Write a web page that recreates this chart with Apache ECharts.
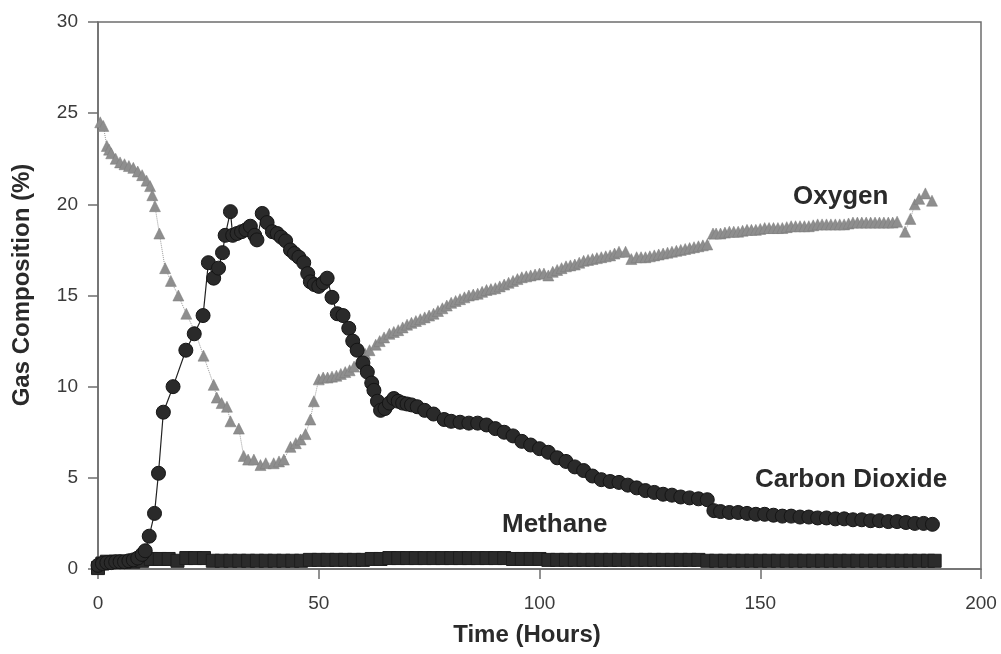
<!DOCTYPE html>
<html>
<head>
<meta charset="utf-8">
<script src="https://cdn.jsdelivr.net/npm/echarts@6/dist/echarts.min.js"></script>
<style>
  html, body { margin: 0; padding: 0; background: #fff; }
  #chartDiv { width: 1001px; height: 654px; }
</style>
</head>
<body>
<div id="chartDiv"></div>
<script>
    // 坐标轴刻度
    var xTicks = [0, 50, 100, 150, 200];
    var yTicks = [0, 5, 10, 15, 20, 25, 30];

    // Carbon Dioxide [time, %]
    var co2Data = [
        [0, 0.2], [1, 0.3], [2, 0.35], [3, 0.35], [4, 0.4], [5, 0.4], [6, 0.4], [7, 0.45], [8, 0.5], [9, 0.6],
        [10, 0.8], [10.7, 1.0], [11.6, 1.8], [12.8, 3.05], [13.7, 5.25], [14.8, 8.6], [17, 10.0], [19.9, 12.0],
        [21.8, 12.9], [23.8, 13.9], [25.0, 16.8], [26.2, 15.95], [27.3, 16.5], [28.2, 17.35], [28.8, 18.3],
        [30.0, 19.6], [30.5, 18.3], [31.5, 18.4], [32.5, 18.5], [33.5, 18.6], [34.5, 18.8], [35.5, 18.3],
        [36, 18.05], [37.2, 19.5], [38.3, 19.0], [39.5, 18.5], [40.6, 18.4], [41.5, 18.2], [42.5, 18.0],
        [43.6, 17.5], [44.5, 17.3], [45.5, 17.1], [46.6, 16.8], [47.5, 16.2], [48.1, 15.75], [49, 15.6],
        [50, 15.5], [51, 15.7], [51.9, 15.95], [53, 14.9], [54.2, 14.0], [55.5, 13.9], [56.8, 13.2],
        [57.7, 12.5], [58.7, 12.0], [60, 11.3], [61, 10.8], [62, 10.2], [62.5, 9.8], [63.3, 9.2], [64, 8.7],
        [65, 8.8], [66, 9.1], [67, 9.35], [68, 9.2], [69, 9.1], [70, 9.05], [71, 9.0], [72.3, 8.9], [74, 8.7],
        [76, 8.5], [78.4, 8.2], [80, 8.1], [82, 8.05], [84, 8.0], [86, 8.0], [88, 7.9], [90, 7.7], [92, 7.5],
        [94, 7.3], [96, 7.0], [98, 6.8], [100, 6.6], [102, 6.4], [104, 6.1], [106, 5.9], [108, 5.6], [110, 5.4],
        [112, 5.1], [114, 4.9], [116, 4.8], [118, 4.75], [120, 4.6], [122, 4.45], [124, 4.3], [126, 4.2],
        [128, 4.1], [130, 4.05], [132, 3.95], [134, 3.9], [136, 3.85], [138, 3.8], [139.5, 3.2], [141, 3.15],
        [143, 3.1], [145, 3.1], [147, 3.05], [149, 3.0], [151, 3.0], [153, 2.95], [155, 2.9], [157, 2.9],
        [159, 2.85], [161, 2.85], [163, 2.8], [165, 2.8], [167, 2.75], [169, 2.75], [171, 2.7], [173, 2.7],
        [175, 2.65], [177, 2.65], [179, 2.6], [181, 2.6], [183, 2.55], [185, 2.5], [187, 2.5], [189, 2.45]
    ];

    // Oxygen [time, %]
    var o2Data = [
        [0.5, 24.5], [1.2, 24.3], [2, 23.2], [2.5, 23.0], [3, 22.8], [4, 22.5], [5, 22.3], [6, 22.2], [7, 22.1],
        [8, 22.0], [9, 21.8], [10, 21.6], [11, 21.3], [11.8, 21.0], [12.3, 20.5], [12.9, 19.9], [13.9, 18.4],
        [15.2, 16.5], [16.5, 15.8], [18.2, 15.0], [20, 14.0], [22, 13.0], [23.9, 11.7], [26.2, 10.1],
        [26.9, 9.4], [28, 9.1], [29.2, 8.9], [30, 8.1], [31.9, 7.7], [33, 6.2], [34, 6.0], [35.3, 6.0],
        [36.8, 5.7], [38, 5.8], [39.8, 5.8], [41, 5.9], [42.1, 6.0], [43.6, 6.7], [44.8, 6.9], [45.9, 7.1],
        [47, 7.4], [48.1, 8.2], [48.9, 9.2], [50, 10.4], [51, 10.5], [52, 10.5], [53, 10.55], [54, 10.6],
        [55, 10.7], [56, 10.8], [57, 10.9], [58, 11.1], [59.5, 11.5], [60.5, 11.8], [61.5, 12.0], [62.9, 12.3],
        [63.8, 12.5], [64.8, 12.7], [66, 12.9], [67, 13.0], [68, 13.1], [69, 13.25], [70, 13.4], [71, 13.5],
        [72, 13.6], [73, 13.7], [74, 13.8], [75, 13.9], [76, 14.0], [77, 14.15], [78, 14.3], [79, 14.45],
        [80, 14.6], [81, 14.7], [82, 14.8], [83, 14.9], [84, 15.0], [85, 15.05], [86, 15.1], [87, 15.2],
        [88, 15.3], [89, 15.35], [90, 15.4], [91, 15.5], [92, 15.6], [93, 15.7], [94, 15.8], [95, 15.9],
        [96, 16.0], [97, 16.05], [98, 16.1], [99, 16.15], [100, 16.2], [101, 16.2], [102, 16.1], [103, 16.3],
        [104, 16.4], [105, 16.5], [106, 16.6], [107, 16.65], [108, 16.7], [109, 16.8], [110, 16.9],
        [111, 16.95], [112, 17.0], [113, 17.05], [114, 17.1], [115, 17.15], [116, 17.2], [117, 17.3],
        [118, 17.4], [119.5, 17.4], [120.8, 17.0], [122, 17.1], [123, 17.1], [124, 17.1], [125, 17.15],
        [126, 17.2], [127, 17.25], [128, 17.3], [129, 17.35], [130, 17.4], [131, 17.45], [132, 17.5],
        [133, 17.55], [134, 17.6], [135, 17.65], [136, 17.7], [137, 17.75], [138, 17.8], [139.3, 18.4],
        [140, 18.4], [141, 18.4], [142, 18.45], [143, 18.5], [144, 18.5], [145, 18.5], [146, 18.55],
        [147, 18.6], [148, 18.6], [149, 18.6], [150, 18.65], [151, 18.7], [152, 18.7], [153, 18.7],
        [154, 18.7], [155, 18.7], [156, 18.75], [157, 18.8], [158, 18.8], [159, 18.8], [160, 18.8],
        [161, 18.8], [162, 18.85], [163, 18.9], [164, 18.9], [165, 18.9], [166, 18.9], [167, 18.9],
        [168, 18.9], [169, 18.9], [170, 18.95], [171, 19.0], [172, 19.0], [173, 19.0], [174, 19.0],
        [175, 19.0], [176, 19.0], [177, 19.0], [178, 19.0], [179, 19.0], [180, 19.0], [181, 19.05],
        [182.8, 18.5], [184, 19.2], [185, 20.0], [186, 20.3], [187.4, 20.6], [188.9, 20.2]
    ];

    // Methane [time, %]
    var ch4Data = [
        [0, 0.05], [1, 0.3], [2, 0.4], [4, 0.4], [6, 0.4], [8, 0.4], [10, 0.45], [12, 0.55], [14, 0.55],
        [16, 0.55], [18, 0.45], [20, 0.6], [22, 0.6], [24, 0.6], [26, 0.45], [28, 0.45], [30, 0.45], [32, 0.45],
        [34, 0.45], [36, 0.45], [38, 0.45], [40, 0.45], [42, 0.45], [44, 0.45], [46, 0.45], [48, 0.5], [50, 0.5],
        [52, 0.5], [54, 0.5], [56, 0.5], [58, 0.5], [60, 0.5], [62, 0.55], [64, 0.55], [66, 0.6], [68, 0.6],
        [70, 0.6], [72, 0.6], [74, 0.6], [76, 0.6], [78, 0.6], [80, 0.6], [82, 0.6], [84, 0.6], [86, 0.6],
        [88, 0.6], [90, 0.6], [92, 0.6], [94, 0.55], [96, 0.55], [98, 0.55], [100, 0.55], [102, 0.5], [104, 0.5],
        [106, 0.5], [108, 0.5], [110, 0.5], [112, 0.5], [114, 0.5], [116, 0.5], [118, 0.5], [120, 0.5],
        [122, 0.5], [124, 0.5], [126, 0.5], [128, 0.5], [130, 0.5], [132, 0.5], [134, 0.5], [136, 0.5],
        [138, 0.45], [140, 0.45], [142, 0.45], [144, 0.45], [146, 0.45], [148, 0.45], [150, 0.45], [152, 0.45],
        [154, 0.45], [156, 0.45], [158, 0.45], [160, 0.45], [162, 0.45], [164, 0.45], [166, 0.45], [168, 0.45],
        [170, 0.45], [172, 0.45], [174, 0.45], [176, 0.45], [178, 0.45], [180, 0.45], [182, 0.45], [184, 0.45],
        [186, 0.45], [188, 0.45], [189.5, 0.45]
    ];

    var FONT = "'Liberation Sans', Arial, sans-serif";

    var chart = echarts.init(document.getElementById('chartDiv'), null, {renderer: 'canvas'});

    var option = {
        backgroundColor: '#ffffff',
        animation: false,
        grid: {
            left: 98, right: 20, top: 22, bottom: 85,
            show: true, borderColor: '#6e6e6e', borderWidth: 1.5, backgroundColor: 'transparent'
        },
        xAxis: {
            type: 'value', min: xTicks[0], max: xTicks[xTicks.length - 1], interval: 50,
            axisLine: {lineStyle: {color: '#6e6e6e', width: 1.5}},
            axisTick: {show: true, inside: false, length: 10, lineStyle: {color: '#6e6e6e', width: 1.5}},
            axisLabel: {fontFamily: FONT, fontSize: 19, color: '#3a3a3a', margin: 25},
            splitLine: {show: false}
        },
        yAxis: {
            type: 'value', min: yTicks[0], max: yTicks[yTicks.length - 1], interval: 5,
            axisLine: {show: true, lineStyle: {color: '#6e6e6e', width: 1.5}},
            axisTick: {show: true, inside: false, length: 10, lineStyle: {color: '#6e6e6e', width: 1.5}},
            axisLabel: {fontFamily: FONT, fontSize: 19, color: '#3a3a3a', margin: 20},
            splitLine: {show: false}
        },
        series: [
            {
                name: 'Methane', type: 'line', data: ch4Data,
                symbol: 'rect', symbolSize: 13, showAllSymbol: true,
                lineStyle: {color: '#222', width: 1},
                itemStyle: {color: '#2b2b2b', borderColor: '#1e1e1e', borderWidth: 1},
                z: 2
            },
            {
                name: 'Oxygen', type: 'line', data: o2Data,
                symbol: 'triangle', symbolSize: 11, showAllSymbol: true,
                lineStyle: {color: '#999', width: 1, type: 'dotted'},
                itemStyle: {color: '#8e8e8e', borderColor: '#7a7a7a', borderWidth: 0.5},
                z: 3
            },
            {
                name: 'Carbon Dioxide', type: 'line', data: co2Data,
                symbol: 'circle', symbolSize: 14, showAllSymbol: true,
                lineStyle: {color: '#222', width: 1.2},
                itemStyle: {color: '#2a2a2a', borderColor: '#151515', borderWidth: 1},
                z: 4
            }
        ],
        graphic: [
            {type: 'text', x: 22, y: 285, rotation: Math.PI / 2,
                style: {text: 'Gas Composition (%)', font: 'bold 24px ' + FONT, fill: '#2a2a2a', align: 'center', verticalAlign: 'middle'}},
            {type: 'text', x: 527, y: 635,
                style: {text: 'Time (Hours)', font: 'bold 24px ' + FONT, fill: '#2a2a2a', align: 'center', verticalAlign: 'middle'}},
            {type: 'text', x: 793, y: 197, style: {text: 'Oxygen', font: 'bold 26px ' + FONT, fill: '#2a2a2a', verticalAlign: 'middle'}},
            {type: 'text', x: 755, y: 480, style: {text: 'Carbon Dioxide', font: 'bold 26px ' + FONT, fill: '#2a2a2a', verticalAlign: 'middle'}},
            {type: 'text', x: 502, y: 525, style: {text: 'Methane', font: 'bold 26px ' + FONT, fill: '#2a2a2a', verticalAlign: 'middle'}}
        ]
    };

    chart.setOption(option);
</script>
</body>
</html>
